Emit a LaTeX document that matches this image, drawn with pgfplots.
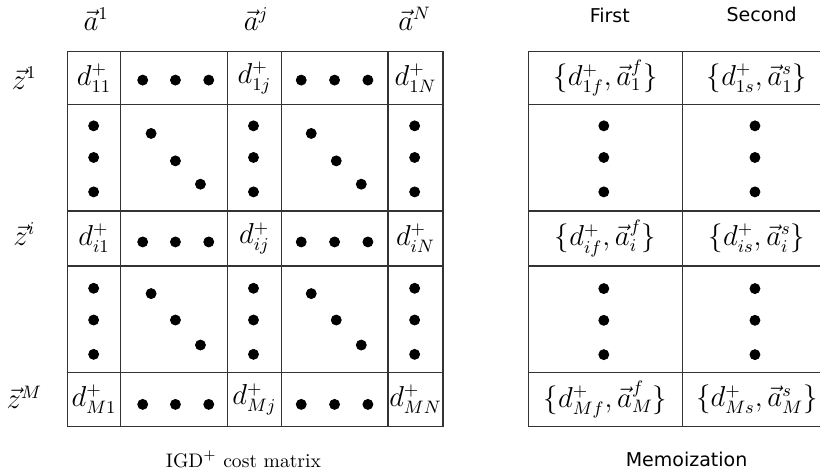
\documentclass[border=0pt]{standalone}
\usepackage{fontspec}
\setsansfont{DejaVu Sans}
\usepackage{pgfplots}
\pgfplotsset{compat=1.18}
\usepackage{pgfplotstable}

% grid lines of both tables (pixel coordinates, y downwards)
\pgfplotstableread{
x y
68 52.3
443.3 52.3
nan nan
68 105.3
443.3 105.3
nan nan
68 211.7
443.3 211.7
nan nan
68 266.7
443.3 266.7
nan nan
68 373.3
443.3 373.3
nan nan
68 427.3
443.3 427.3
nan nan
68 52.3
68 427.3
nan nan
121.3 52.3
121.3 427.3
nan nan
228.3 52.3
228.3 427.3
nan nan
281.7 52.3
281.7 427.3
nan nan
388.3 52.3
388.3 427.3
nan nan
443.3 52.3
443.3 427.3
nan nan
528.7 52.3
836.7 52.3
nan nan
528.7 105.3
836.7 105.3
nan nan
528.7 211.7
836.7 211.7
nan nan
528.7 266.7
836.7 266.7
nan nan
528.7 373.3
836.7 373.3
nan nan
528.7 427.3
836.7 427.3
nan nan
528.7 52.3
528.7 427.3
nan nan
682.7 52.3
682.7 427.3
nan nan
836.7 52.3
836.7 427.3
}\gridlines

% ellipsis dots
\pgfplotstableread{
x y
143.3 81
176 81
209.3 81
301.7 81
335 81
368.3 81
143.3 242.7
176 242.7
209.3 242.7
301.7 242.7
335 242.7
368.3 242.7
143.3 405
176 405
209.3 405
301.7 405
335 405
368.3 405
94.3 126.7
94.3 158.3
94.3 192.7
254 126.7
254 158.3
254 192.7
415 126.7
415 158.3
415 192.7
94.3 289
94.3 320.7
94.3 355
254 289
254 320.7
254 355
415 289
415 320.7
415 355
151.7 134.3
176 161.7
201 185
311.7 134.3
336.7 161.7
361.7 185
151.7 294.3
176 320.7
201 345.7
311.7 294.3
336.7 320.7
361.7 345.7
604 126.7
604 158.3
604 192.7
755 126.7
755 158.3
755 192.7
604 289.3
604 321
604 355.3
755 289.3
755 321
755 355.3
}\dots

\begin{document}
\begin{tikzpicture}
\begin{axis}[
    width=410pt, height=238.5pt,
    scale only axis,
    xmin=0, xmax=820,
    ymin=0, ymax=477,
    y dir=reverse,
    hide axis,
    unbounded coords=jump,
    clip=true,
]
\addplot[no marks, black!80, line width=0.7pt] table {\gridlines};
\addplot[only marks, mark=*, mark size=2.5pt, black] table {\dots};

% column and row headers
\begin{scope}[font=\fontsize{13.5}{16}\selectfont]
\node at (axis cs:96.7,20) {$\vec{a}^{1}$};
\node at (axis cs:256.7,20) {$\vec{a}^{j}$};
\node at (axis cs:415,20) {$\vec{a}^{N}$};
\node at (axis cs:25,79) {$\vec{z}^{1}$};
\node at (axis cs:25,235) {$\vec{z}^{i}$};
\node at (axis cs:25,398) {$\vec{z}^{M}$};

\node at (axis cs:94.7,79) {$d^{+}_{11}$};
\node at (axis cs:255,79) {$d^{+}_{1j}$};
\node at (axis cs:415.8,79) {$d^{+}_{1N}$};
\node at (axis cs:94.7,239) {$d^{+}_{i1}$};
\node at (axis cs:255,239) {$d^{+}_{ij}$};
\node at (axis cs:415.8,239) {$d^{+}_{iN}$};
\node at (axis cs:94.7,400) {$d^{+}_{M1}$};
\node at (axis cs:255,400) {$d^{+}_{Mj}$};
\node at (axis cs:415.8,400) {$d^{+}_{MN}$};

\node at (axis cs:605.7,79) {$\{d^{+}_{1f},\vec{a}^{f}_{1}\}$};
\node at (axis cs:757,79) {$\{d^{+}_{1s},\vec{a}^{s}_{1}\}$};
\node at (axis cs:605.7,239) {$\{d^{+}_{if},\vec{a}^{f}_{i}\}$};
\node at (axis cs:757,239) {$\{d^{+}_{is},\vec{a}^{s}_{i}\}$};
\node at (axis cs:605.7,400) {$\{d^{+}_{Mf},\vec{a}^{f}_{M}\}$};
\node at (axis cs:757,400) {$\{d^{+}_{Ms},\vec{a}^{s}_{M}\}$};
\end{scope}

\begin{scope}[font=\sffamily\fontsize{9.5}{11}\selectfont]
\node at (axis cs:610,16) {First};
\node at (axis cs:761.7,15) {Second};
\node at (axis cs:686.7,460) {Memoization};
\end{scope}
\node[font=\fontsize{9.8}{12}\selectfont] at (axis cs:244,460) {IGD$^{+}$ cost matrix};
\end{axis}
\end{tikzpicture}
\end{document}
